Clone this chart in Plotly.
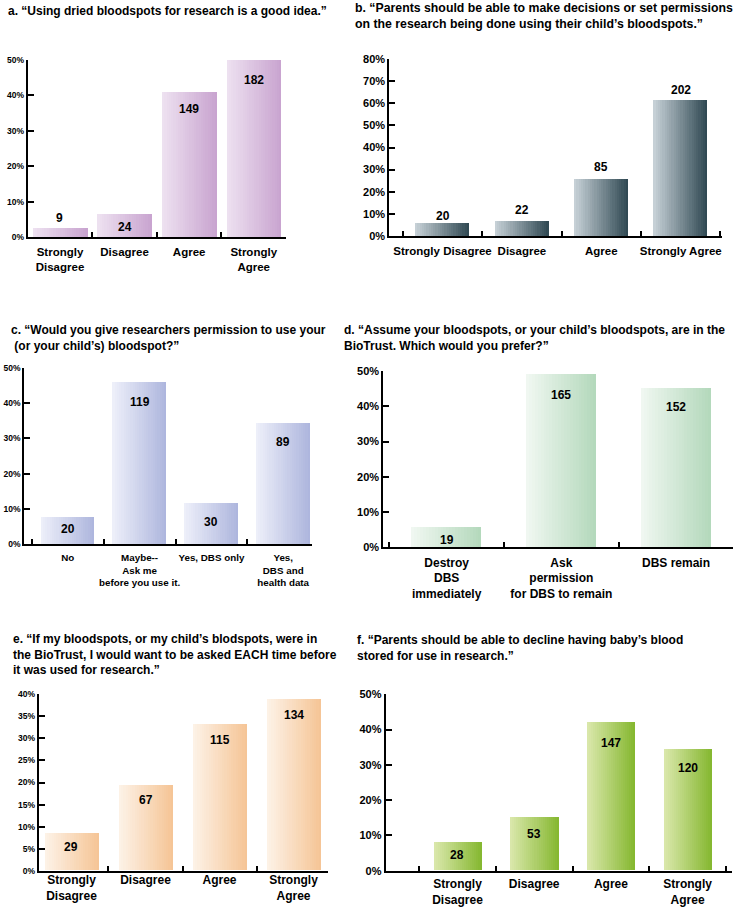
import plotly.graph_objects as go

# ---------------- data ----------------
a_categories = ["Strongly<br>Disagree", "Disagree", "Agree", "Strongly<br>Agree"]
a_counts = [9, 24, 149, 182]
a_percent = [2.5, 6.6, 40.9, 50.0]

b_categories = ["Strongly Disagree", "Disagree", "Agree", "Strongly Agree"]
b_counts = [20, 22, 85, 202]
b_percent = [6.1, 6.7, 25.8, 61.4]

c_categories = ["No", "Maybe--<br>Ask me<br>before you use it.", "Yes, DBS only", "Yes,<br>DBS and<br>health data"]
c_counts = [20, 119, 30, 89]
c_percent = [7.8, 46.1, 11.6, 34.5]

d_categories = ["Destroy<br>DBS<br>immediately", "Ask<br>permission<br>for DBS to remain", "DBS remain"]
d_counts = [19, 165, 152]
d_percent = [5.7, 49.1, 45.2]

e_categories = ["Strongly<br>Disagree", "Disagree", "Agree", "Strongly<br>Agree"]
e_counts = [29, 67, 115, 134]
e_percent = [8.4, 19.4, 33.3, 38.8]

f_categories = ["Strongly<br>Disagree", "Disagree", "Agree", "Strongly<br>Agree"]
f_counts = [28, 53, 147, 120]
f_percent = [8.0, 15.2, 42.2, 34.5]

titles = [
    "a. “Using dried bloodspots for research is a good idea.”",
    "b. “Parents should be able to make decisions or set permissions<br>on the research being done using their child’s bloodspots.”",
    "c. “Would you give researchers permission to use your<br> (or your child’s) bloodspot?”",
    "d. “Assume your bloodspots, or your child’s bloodspots, are in the<br>BioTrust. Which would you prefer?”",
    "e. “If my bloodspots, or my child’s blodspots, were in<br>the BioTrust, I would want to be asked EACH time before<br>it was used for research.”",
    "f. “Parents should be able to decline having baby’s blood<br>stored for use in research.”",
]

# ---------------- styles / layout ----------------
W, H = 739, 907
FONT = "Liberation Sans, Arial, Helvetica, sans-serif"

panels = [
    dict(cats=a_categories, cnt=a_counts, pct=a_percent,
         xpx=(27.7, 286), ypx=(237, 60), xr=(-0.5, 3.5), yr=(0, 50), dtick=10,
         yfs=8.5, xfs=11.5, bw=0.85, c1="#eee2f1", c2="#c8a3cf", standoff=3,
         shifts=[10, -13, -17, -20], tpos=(6, 11), tfs=12),
    dict(cats=b_categories, cnt=b_counts, pct=b_percent,
         xpx=(389.3, 722), ypx=(236, 59), xr=(-0.67, 3.52), yr=(0, 80), dtick=10,
         yfs=11, xfs=11.5, bw=0.68, c1="#c9d3d9", c2="#2e4751", standoff=3,
         shifts=[7, 11, 12, 10], tpos=(353, 15.5), tfs=12.3),
    dict(cats=c_categories, cnt=c_counts, pct=c_percent,
         xpx=(24.3, 311.7), ypx=(544, 368), xr=(-0.606, 3.397), yr=(0, 50), dtick=10,
         yfs=8.5, xfs=9.8, bw=0.75, c1="#eef0fa", c2="#adb5dd", standoff=3,
         shifts=[-12, -20, -19, -19], tpos=(9, 338.3), tfs=12),
    dict(cats=d_categories, cnt=d_counts, pct=d_percent,
         xpx=(383.3, 733.3), ypx=(547.3, 371), xr=(-0.553, 2.5), yr=(0, 50), dtick=10,
         yfs=11, xfs=12, bw=0.61, c1="#f1f8f2", c2="#b3d8bb", standoff=3,
         shifts=[-13, -21, -19], tpos=(342, 338.3), tfs=12),
    dict(cats=e_categories, cnt=e_counts, pct=e_percent,
         xpx=(38.7, 328.3), ypx=(870.7, 694.3), xr=(-0.443, 3.47), yr=(0, 40), dtick=5,
         yfs=8.5, xfs=12, bw=0.73, c1="#fdf3e8", c2="#f5c495", standoff=-3,
         shifts=[-13, -15, -16, -15], tpos=(11, 654), tfs=12),
    dict(cats=f_categories, cnt=f_counts, pct=f_percent,
         xpx=(385.7, 731.7), ypx=(870.7, 694.3), xr=(-0.936, 3.575), yr=(0, 50), dtick=10,
         yfs=11, xfs=12, bw=0.63, c1="#dbe8ad", c2="#84b72e", standoff=1,
         shifts=[-13, -17, -21, -19], tpos=(355, 647.5), tfs=12),
]


def hex2rgb(h):
    h = h.lstrip("#")
    return tuple(int(h[i:i + 2], 16) for i in (0, 2, 4))


def mix(c1, c2, t):
    a, b = hex2rgb(c1), hex2rgb(c2)
    return "rgb(%d,%d,%d)" % tuple(round(a[i] + (b[i] - a[i]) * t) for i in range(3))


fig = go.Figure()
N = 24
annotations = []
layout_axes = {}

for i, p in enumerate(panels, start=1):
    xa = "x" if i == 1 else f"x{i}"
    ya = "y" if i == 1 else f"y{i}"
    n = len(p["cats"])
    bw = p["bw"]
    # gradient bar: stacked slices from left edge to right edge
    for k in range(N):
        t = (k + 0.5) / N
        off = -bw / 2 + k * bw / N
        w = bw - k * bw / N
        fig.add_trace(go.Bar(
            x=p["cats"], y=p["pct"], width=[w] * n, offset=[off] * n,
            marker=dict(color=mix(p["c1"], p["c2"], t), line=dict(width=0)),
            xaxis=xa, yaxis=ya, hoverinfo="skip", showlegend=False,
        ))
    # value labels
    for cat, val, cnt, sh in zip(p["cats"], p["pct"], p["cnt"], p["shifts"]):
        annotations.append(dict(
            x=cat, y=val, xref=xa, yref=ya, text=str(cnt), showarrow=False,
            yshift=sh, yanchor="middle", xanchor="center",
            font=dict(family=FONT, size=12, color="black", weight="bold"),
        ))
    # titles
    tx, ty = p["tpos"]
    annotations.append(dict(
        x=tx / W, y=1 - ty / H, xref="paper", yref="paper", text=titles[i - 1],
        showarrow=False, xanchor="left", yanchor="middle", align="left",
        font=dict(family=FONT, size=p["tfs"], color="black", weight="bold"),
    ))
    xd = [p["xpx"][0] / W, p["xpx"][1] / W]
    yd = [1 - p["ypx"][0] / H, 1 - p["ypx"][1] / H]
    key_x = "xaxis" if i == 1 else f"xaxis{i}"
    key_y = "yaxis" if i == 1 else f"yaxis{i}"
    layout_axes[key_x] = dict(
        domain=xd, anchor=ya, type="category", range=list(p["xr"]),
        showline=True, linecolor="black", linewidth=2,
        ticks="inside", tickson="boundaries", ticklen=5, tickwidth=2, tickcolor="black",
        tickfont=dict(family=FONT, size=p["xfs"], color="black", weight="bold"),
        tickangle=0, automargin=False, ticklabelstandoff=p["standoff"],
        showgrid=False, zeroline=False, fixedrange=True,
    )
    layout_axes[key_y] = dict(
        domain=yd, anchor=xa, range=list(p["yr"]), dtick=p["dtick"], ticksuffix="%",
        showline=True, linecolor="black", linewidth=2,
        ticks="inside", ticklen=6, tickwidth=2, tickcolor="black",
        tickfont=dict(family=FONT, size=p["yfs"], color="black", weight="bold"),
        automargin=False,
        showgrid=False, zeroline=False, fixedrange=True,
    )

fig.update_layout(
    width=W, height=H, margin=dict(l=0, r=0, t=0, b=0, autoexpand=False),
    paper_bgcolor="white", plot_bgcolor="white",
    barmode="overlay", bargap=0, showlegend=False,
    annotations=annotations, **layout_axes,
)

fig.write_html(
    "out.html",
    config={"displayModeBar": False},
    post_script="document.body.style.margin='0';document.body.style.overflow='hidden';",
)
